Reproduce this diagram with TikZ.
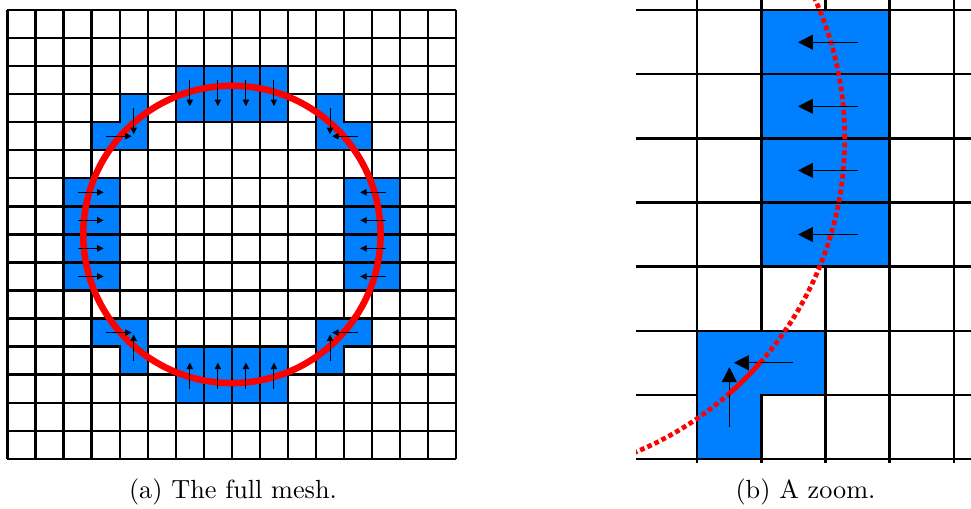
\documentclass[tikz,border=0pt]{standalone}
\usepackage{tikz}
\usetikzlibrary{arrows.meta}
\definecolor{cBlue}{RGB}{0,128,255}
\definecolor{cRed}{RGB}{255,0,0}
\tikzset{
	gridline/.style={black, line width=0.9pt},
	cellbox/.style={fill=cBlue, draw=black, line width=0.9pt},
	subcap/.style={font=\normalsize, anchor=base},
}
% mesh in cell units: grid, staggered cells, interface, velocity arrows
\newcommand{\meshscene}{%
	\foreach \k in {0,...,16} {
		\draw[gridline] (\k,0) -- (\k,16) (0,\k) -- (16,\k);
	}
	\foreach \c in {6,...,9} {
		\filldraw[cellbox] (\c,12) rectangle ++(1,2);
		\filldraw[cellbox] (\c,2) rectangle ++(1,2);
	}
	\foreach \r in {6,...,9} {
		\filldraw[cellbox] (2,\r) rectangle ++(2,1);
		\filldraw[cellbox] (12,\r) rectangle ++(2,1);
	}
	\foreach \sx/\sy in {1/1, -1/1, 1/-1, -1/-1} {
		\begin{scope}[shift={(8,8)}, xscale=\sx, yscale=\sy]
			\filldraw[cellbox] (3,3) -- (5,3) -- (5,4) -- (4,4) -- (4,5) -- (3,5) -- cycle;
		\end{scope}
	}
	\draw[ifaceline] (8,8) circle (5.3);
	\foreach \c in {6,...,9} {
		\draw[velarrow] (\c+0.5,13.5) -- (\c+0.5,12.57);
		\draw[velarrow] (\c+0.5,2.5) -- (\c+0.5,3.43);
	}
	\foreach \r in {6,...,9} {
		\draw[velarrow] (2.5,\r+0.5) -- (3.43,\r+0.5);
		\draw[velarrow] (13.5,\r+0.5) -- (12.57,\r+0.5);
	}
	\foreach \sx/\sy in {1/1, -1/1, 1/-1, -1/-1} {
		\begin{scope}[shift={(8,8)}, xscale=\sx, yscale=\sy]
			\draw[velarrow] (3.5,4.5) -- (3.5,3.57);
			\draw[velarrow] (4.5,3.5) -- (3.57,3.5);
		\end{scope}
	}
}

\begin{document}
\begin{tikzpicture}[x=0.381pt, y=0.381pt]
	\useasboundingbox (0,0) rectangle (971,509);
	% (a) full mesh
	\begin{scope}[shift={(7.5,50.2)}, scale=28.05,
		velarrow/.style={thin, -{Triangle[length=2.5pt, width=2.4pt]}},
		ifaceline/.style={cRed, line width=2.5pt}]
		\meshscene
	\end{scope}
	% (b) zoom on the lower right corner
	\begin{scope}
		\clip (636,46) rectangle (971,509);
		\begin{scope}[shift={(-7.8,-142.2)}, scale=64.1,
			velarrow/.style={thin, -{Triangle[length=5.7pt, width=5.7pt]}},
			ifaceline/.style={cRed, line width=1.8pt, dash pattern=on 1.8pt off 1.2pt}]
			\meshscene
			\draw[cRed, line width=1.8pt] ([shift={(8,8)}]-48.7:5.3) arc[start angle=-48.7, end angle=-41.3, radius=5.3];
		\end{scope}
	\end{scope}
	\node[subcap] (capA) at (233,10.5) {(a) The full mesh.};
	\node[subcap] (capB) at (805.5,10.5) {(b) A zoom.};
\end{tikzpicture}
\end{document}
